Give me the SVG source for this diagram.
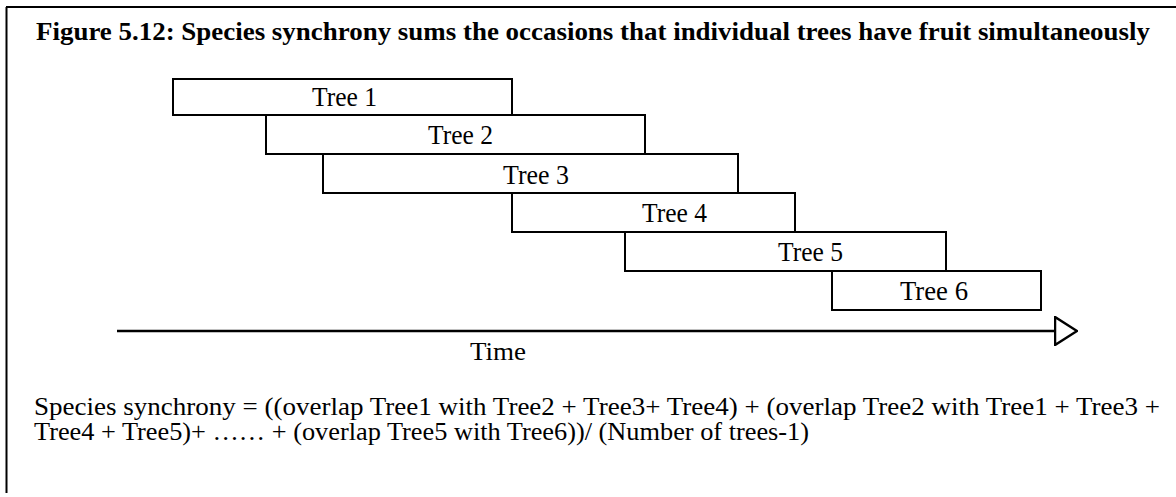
<svg xmlns="http://www.w3.org/2000/svg" width="1176" height="497" viewBox="0 0 1176 497">
<style>
text{font-family:'Liberation Serif','Times New Roman',Times,serif;fill:#000}
.frame{stroke:#000;stroke-width:2;fill:none}
.box{fill:#fff;stroke:#000;stroke-width:2}
.lbl{font-size:27px}
.title{font-size:25px;font-weight:bold}
.body{font-size:25px}
.axis{stroke:#000;stroke-width:2.5;fill:none}
</style>
<defs>
<marker id="open" viewBox="0 0 24 30" refX="1" refY="15" markerWidth="24" markerHeight="30" markerUnits="userSpaceOnUse" orient="auto">
<polygon points="1,1 23,15 1,29" fill="#fff" stroke="#000" stroke-width="2.5"/>
</marker>
</defs>
<rect width="1176" height="497" fill="#fff"/>
<g id="frame">
<path class="frame" d="M6,7 H1176 M6.5,7 V493"/>
</g>
<text class="title" x="36" y="40" textLength="1114" lengthAdjust="spacingAndGlyphs">Figure 5.12:  Species synchrony sums the occasions that individual trees have fruit simultaneously</text>
<g id="tree1"><rect class="box" x="173" y="79" width="339" height="36"/><text class="lbl" x="312" y="106" textLength="65" lengthAdjust="spacingAndGlyphs">Tree 1</text></g>
<g id="tree2"><rect class="box" x="266" y="115" width="379" height="39"/><text class="lbl" x="428" y="144" textLength="65" lengthAdjust="spacingAndGlyphs">Tree 2</text></g>
<g id="tree3"><rect class="box" x="323" y="154" width="415" height="39"/><text class="lbl" x="503" y="184" textLength="66" lengthAdjust="spacingAndGlyphs">Tree 3</text></g>
<g id="tree4"><rect class="box" x="512" y="193" width="283" height="39"/><text class="lbl" x="642" y="222" textLength="65" lengthAdjust="spacingAndGlyphs">Tree 4</text></g>
<g id="tree5"><rect class="box" x="625" y="232" width="321" height="39"/><text class="lbl" x="778" y="261" textLength="65" lengthAdjust="spacingAndGlyphs">Tree 5</text></g>
<g id="tree6"><rect class="box" x="832" y="271" width="209" height="39"/><text class="lbl" x="900" y="300" textLength="68" lengthAdjust="spacingAndGlyphs">Tree 6</text></g>
<g id="connectors">
<line class="axis" x1="117" y1="331" x2="1055" y2="331" marker-end="url(#open)"/>
</g>
<g id="time"><text class="body" x="470" y="360" textLength="56" lengthAdjust="spacingAndGlyphs">Time</text></g>
<g id="formula">
<text class="body" x="34" y="415" textLength="1126" lengthAdjust="spacingAndGlyphs">Species synchrony = ((overlap Tree1 with Tree2 + Tree3+ Tree4) + (overlap Tree2 with Tree1 + Tree3 +</text>
<text class="body" x="34" y="440" textLength="775" lengthAdjust="spacingAndGlyphs">Tree4 + Tree5)+ …… + (overlap Tree5 with Tree6))/ (Number of trees-1)</text>
</g>
</svg>
